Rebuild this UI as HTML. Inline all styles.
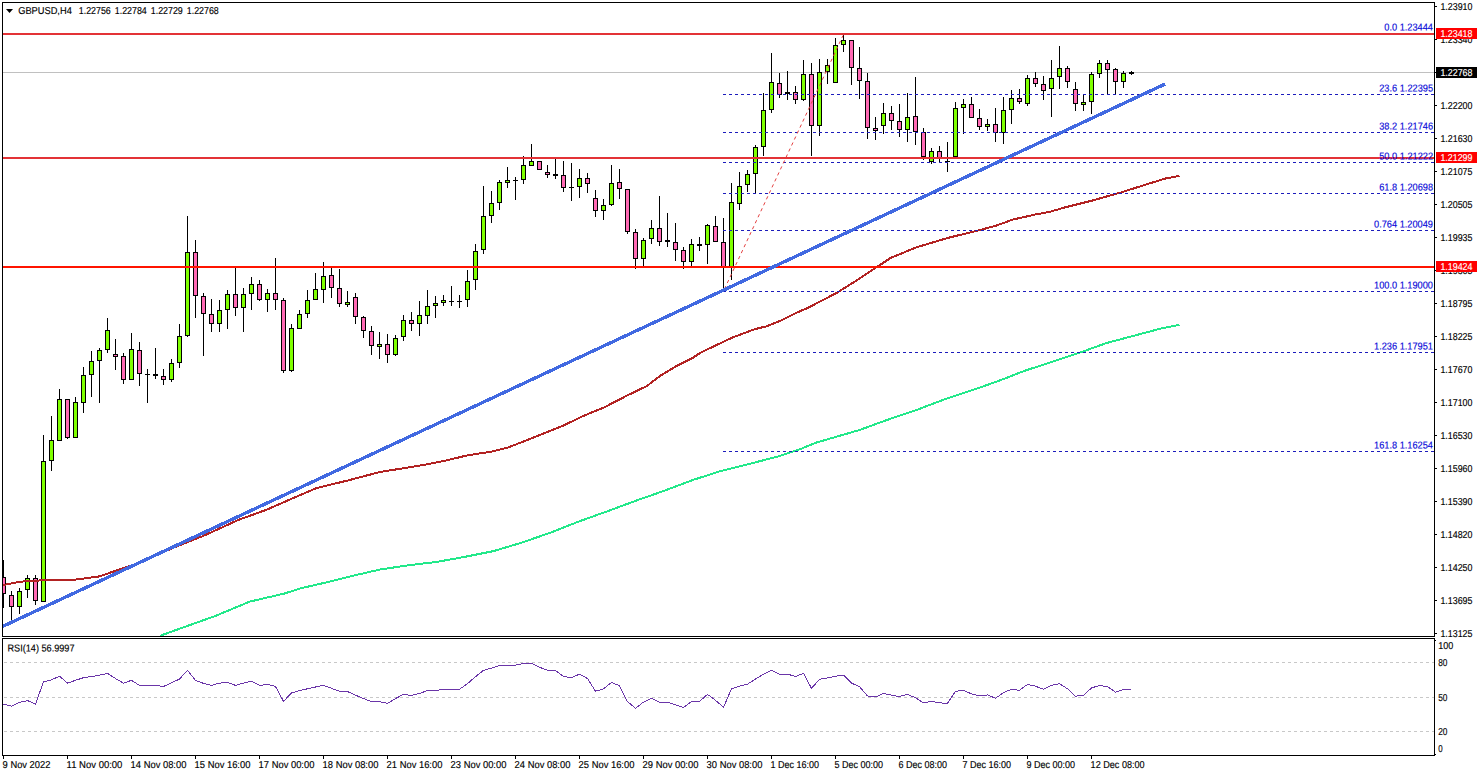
<!DOCTYPE html>
<html><head><meta charset="utf-8"><title>GBPUSD,H4</title>
<style>
html,body{margin:0;padding:0;background:#fff;}
body{width:1480px;height:776px;overflow:hidden;font-family:"Liberation Sans",sans-serif;}
svg{display:block;}
text{font-family:"Liberation Sans",sans-serif;}
</style></head><body>
<svg width="1480" height="776" viewBox="0 0 1480 776">
<rect x="0" y="0" width="1480" height="776" fill="#ffffff"/>
<defs><clipPath id="cm"><rect x="3" y="3" width="1431" height="633"/></clipPath><clipPath id="cr"><rect x="3" y="639" width="1431" height="116"/></clipPath></defs>
<g clip-path="url(#cm)">
<rect x="3" y="72" width="1431" height="1" fill="#c0c0c0" shape-rendering="crispEdges"/>
<g shape-rendering="crispEdges">
<rect x="3" y="560" width="1" height="48" fill="#000"/><rect x="1" y="577" width="5" height="17" fill="#000"/><rect x="2" y="578" width="3" height="15" fill="#ff69b4"/>
<rect x="11" y="591" width="1" height="30" fill="#000"/><rect x="9" y="595" width="5" height="12" fill="#000"/><rect x="10" y="596" width="3" height="10" fill="#ff69b4"/>
<rect x="19" y="588" width="1" height="26" fill="#000"/><rect x="17" y="591" width="5" height="16" fill="#000"/><rect x="18" y="592" width="3" height="14" fill="#7fff00"/>
<rect x="27" y="575" width="1" height="23" fill="#000"/><rect x="25" y="578" width="5" height="12" fill="#000"/><rect x="26" y="579" width="3" height="10" fill="#7fff00"/>
<rect x="35" y="575" width="1" height="30" fill="#000"/><rect x="33" y="578" width="5" height="23" fill="#000"/><rect x="34" y="579" width="3" height="21" fill="#ff69b4"/>
<rect x="43" y="435" width="1" height="167" fill="#000"/><rect x="41" y="461" width="5" height="141" fill="#000"/><rect x="42" y="462" width="3" height="139" fill="#7fff00"/>
<rect x="51" y="416" width="1" height="55" fill="#000"/><rect x="49" y="440" width="5" height="21" fill="#000"/><rect x="50" y="441" width="3" height="19" fill="#7fff00"/>
<rect x="59" y="389" width="1" height="52" fill="#000"/><rect x="57" y="399" width="5" height="42" fill="#000"/><rect x="58" y="400" width="3" height="40" fill="#7fff00"/>
<rect x="67" y="399" width="1" height="40" fill="#000"/><rect x="65" y="399" width="5" height="39" fill="#000"/><rect x="66" y="400" width="3" height="37" fill="#ff69b4"/>
<rect x="75" y="397" width="1" height="41" fill="#000"/><rect x="73" y="402" width="5" height="36" fill="#000"/><rect x="74" y="403" width="3" height="34" fill="#7fff00"/>
<rect x="83" y="367" width="1" height="46" fill="#000"/><rect x="81" y="375" width="5" height="28" fill="#000"/><rect x="82" y="376" width="3" height="26" fill="#7fff00"/>
<rect x="91" y="351" width="1" height="46" fill="#000"/><rect x="89" y="361" width="5" height="14" fill="#000"/><rect x="90" y="362" width="3" height="12" fill="#7fff00"/>
<rect x="99" y="348" width="1" height="55" fill="#000"/><rect x="97" y="350" width="5" height="11" fill="#000"/><rect x="98" y="351" width="3" height="9" fill="#7fff00"/>
<rect x="107" y="318" width="1" height="35" fill="#000"/><rect x="105" y="330" width="5" height="20" fill="#000"/><rect x="106" y="331" width="3" height="18" fill="#7fff00"/>
<rect x="115" y="339" width="1" height="31" fill="#000"/><rect x="113" y="354" width="5" height="3" fill="#000"/><rect x="114" y="355" width="3" height="1" fill="#ff69b4"/>
<rect x="123" y="353" width="1" height="31" fill="#000"/><rect x="121" y="356" width="5" height="24" fill="#000"/><rect x="122" y="357" width="3" height="22" fill="#ff69b4"/>
<rect x="131" y="333" width="1" height="47" fill="#000"/><rect x="129" y="349" width="5" height="31" fill="#000"/><rect x="130" y="350" width="3" height="29" fill="#7fff00"/>
<rect x="139" y="342" width="1" height="44" fill="#000"/><rect x="137" y="350" width="5" height="24" fill="#000"/><rect x="138" y="351" width="3" height="22" fill="#ff69b4"/>
<rect x="147" y="369" width="1" height="34" fill="#000"/><rect x="145" y="374" width="5" height="1" fill="#000"/>
<rect x="155" y="348" width="1" height="31" fill="#000"/><rect x="153" y="374" width="5" height="2" fill="#000"/>
<rect x="163" y="369" width="1" height="16" fill="#000"/><rect x="161" y="376" width="5" height="4" fill="#000"/><rect x="162" y="377" width="3" height="2" fill="#ff69b4"/>
<rect x="171" y="359" width="1" height="23" fill="#000"/><rect x="169" y="363" width="5" height="17" fill="#000"/><rect x="170" y="364" width="3" height="15" fill="#7fff00"/>
<rect x="179" y="324" width="1" height="44" fill="#000"/><rect x="177" y="336" width="5" height="27" fill="#000"/><rect x="178" y="337" width="3" height="25" fill="#7fff00"/>
<rect x="187" y="216" width="1" height="121" fill="#000"/><rect x="185" y="252" width="5" height="84" fill="#000"/><rect x="186" y="253" width="3" height="82" fill="#7fff00"/>
<rect x="195" y="240" width="1" height="78" fill="#000"/><rect x="193" y="252" width="5" height="44" fill="#000"/><rect x="194" y="253" width="3" height="42" fill="#ff69b4"/>
<rect x="203" y="293" width="1" height="63" fill="#000"/><rect x="201" y="296" width="5" height="18" fill="#000"/><rect x="202" y="297" width="3" height="16" fill="#ff69b4"/>
<rect x="211" y="299" width="1" height="33" fill="#000"/><rect x="209" y="314" width="5" height="10" fill="#000"/><rect x="210" y="315" width="3" height="8" fill="#ff69b4"/>
<rect x="219" y="300" width="1" height="32" fill="#000"/><rect x="217" y="310" width="5" height="14" fill="#000"/><rect x="218" y="311" width="3" height="12" fill="#7fff00"/>
<rect x="227" y="290" width="1" height="39" fill="#000"/><rect x="225" y="294" width="5" height="16" fill="#000"/><rect x="226" y="295" width="3" height="14" fill="#7fff00"/>
<rect x="235" y="268" width="1" height="48" fill="#000"/><rect x="233" y="294" width="5" height="14" fill="#000"/><rect x="234" y="295" width="3" height="12" fill="#ff69b4"/>
<rect x="243" y="288" width="1" height="44" fill="#000"/><rect x="241" y="294" width="5" height="14" fill="#000"/><rect x="242" y="295" width="3" height="12" fill="#7fff00"/>
<rect x="251" y="277" width="1" height="33" fill="#000"/><rect x="249" y="284" width="5" height="10" fill="#000"/><rect x="250" y="285" width="3" height="8" fill="#7fff00"/>
<rect x="259" y="280" width="1" height="21" fill="#000"/><rect x="257" y="284" width="5" height="16" fill="#000"/><rect x="258" y="285" width="3" height="14" fill="#ff69b4"/>
<rect x="267" y="289" width="1" height="23" fill="#000"/><rect x="265" y="293" width="5" height="7" fill="#000"/><rect x="266" y="294" width="3" height="5" fill="#7fff00"/>
<rect x="275" y="258" width="1" height="52" fill="#000"/><rect x="273" y="293" width="5" height="7" fill="#000"/><rect x="274" y="294" width="3" height="5" fill="#ff69b4"/>
<rect x="283" y="298" width="1" height="75" fill="#000"/><rect x="281" y="300" width="5" height="71" fill="#000"/><rect x="282" y="301" width="3" height="69" fill="#ff69b4"/>
<rect x="291" y="324" width="1" height="48" fill="#000"/><rect x="289" y="328" width="5" height="43" fill="#000"/><rect x="290" y="329" width="3" height="41" fill="#7fff00"/>
<rect x="299" y="310" width="1" height="19" fill="#000"/><rect x="297" y="314" width="5" height="15" fill="#000"/><rect x="298" y="315" width="3" height="13" fill="#7fff00"/>
<rect x="307" y="290" width="1" height="28" fill="#000"/><rect x="305" y="300" width="5" height="14" fill="#000"/><rect x="306" y="301" width="3" height="12" fill="#7fff00"/>
<rect x="315" y="273" width="1" height="27" fill="#000"/><rect x="313" y="289" width="5" height="11" fill="#000"/><rect x="314" y="290" width="3" height="9" fill="#7fff00"/>
<rect x="323" y="262" width="1" height="41" fill="#000"/><rect x="321" y="276" width="5" height="14" fill="#000"/><rect x="322" y="277" width="3" height="12" fill="#7fff00"/>
<rect x="331" y="268" width="1" height="30" fill="#000"/><rect x="329" y="275" width="5" height="13" fill="#000"/><rect x="330" y="276" width="3" height="11" fill="#ff69b4"/>
<rect x="339" y="269" width="1" height="38" fill="#000"/><rect x="337" y="288" width="5" height="16" fill="#000"/><rect x="338" y="289" width="3" height="14" fill="#ff69b4"/>
<rect x="347" y="291" width="1" height="16" fill="#000"/><rect x="345" y="302" width="5" height="3" fill="#000"/><rect x="346" y="303" width="3" height="1" fill="#7fff00"/>
<rect x="355" y="293" width="1" height="31" fill="#000"/><rect x="353" y="297" width="5" height="20" fill="#000"/><rect x="354" y="298" width="3" height="18" fill="#ff69b4"/>
<rect x="363" y="316" width="1" height="22" fill="#000"/><rect x="361" y="317" width="5" height="14" fill="#000"/><rect x="362" y="318" width="3" height="12" fill="#ff69b4"/>
<rect x="371" y="326" width="1" height="29" fill="#000"/><rect x="369" y="331" width="5" height="15" fill="#000"/><rect x="370" y="332" width="3" height="13" fill="#ff69b4"/>
<rect x="379" y="332" width="1" height="27" fill="#000"/><rect x="377" y="344" width="5" height="3" fill="#000"/><rect x="378" y="345" width="3" height="1" fill="#7fff00"/>
<rect x="387" y="334" width="1" height="29" fill="#000"/><rect x="385" y="344" width="5" height="11" fill="#000"/><rect x="386" y="345" width="3" height="9" fill="#ff69b4"/>
<rect x="395" y="335" width="1" height="21" fill="#000"/><rect x="393" y="338" width="5" height="17" fill="#000"/><rect x="394" y="339" width="3" height="15" fill="#7fff00"/>
<rect x="403" y="315" width="1" height="26" fill="#000"/><rect x="401" y="320" width="5" height="17" fill="#000"/><rect x="402" y="321" width="3" height="15" fill="#7fff00"/>
<rect x="411" y="312" width="1" height="19" fill="#000"/><rect x="409" y="320" width="5" height="4" fill="#000"/><rect x="410" y="321" width="3" height="2" fill="#ff69b4"/>
<rect x="419" y="301" width="1" height="35" fill="#000"/><rect x="417" y="315" width="5" height="9" fill="#000"/><rect x="418" y="316" width="3" height="7" fill="#7fff00"/>
<rect x="427" y="290" width="1" height="34" fill="#000"/><rect x="425" y="306" width="5" height="10" fill="#000"/><rect x="426" y="307" width="3" height="8" fill="#7fff00"/>
<rect x="435" y="296" width="1" height="22" fill="#000"/><rect x="433" y="303" width="5" height="3" fill="#000"/><rect x="434" y="304" width="3" height="1" fill="#7fff00"/>
<rect x="443" y="295" width="1" height="11" fill="#000"/><rect x="441" y="300" width="5" height="3" fill="#000"/><rect x="442" y="301" width="3" height="1" fill="#7fff00"/>
<rect x="451" y="286" width="1" height="20" fill="#000"/><rect x="449" y="301" width="5" height="1" fill="#000"/>
<rect x="459" y="295" width="1" height="13" fill="#000"/><rect x="457" y="301" width="5" height="1" fill="#000"/>
<rect x="467" y="270" width="1" height="37" fill="#000"/><rect x="465" y="281" width="5" height="19" fill="#000"/><rect x="466" y="282" width="3" height="17" fill="#7fff00"/>
<rect x="475" y="244" width="1" height="46" fill="#000"/><rect x="473" y="251" width="5" height="29" fill="#000"/><rect x="474" y="252" width="3" height="27" fill="#7fff00"/>
<rect x="483" y="186" width="1" height="68" fill="#000"/><rect x="481" y="216" width="5" height="34" fill="#000"/><rect x="482" y="217" width="3" height="32" fill="#7fff00"/>
<rect x="491" y="191" width="1" height="32" fill="#000"/><rect x="489" y="203" width="5" height="13" fill="#000"/><rect x="490" y="204" width="3" height="11" fill="#7fff00"/>
<rect x="499" y="180" width="1" height="30" fill="#000"/><rect x="497" y="182" width="5" height="21" fill="#000"/><rect x="498" y="183" width="3" height="19" fill="#7fff00"/>
<rect x="507" y="167" width="1" height="21" fill="#000"/><rect x="505" y="180" width="5" height="3" fill="#000"/><rect x="506" y="181" width="3" height="1" fill="#7fff00"/>
<rect x="515" y="177" width="1" height="23" fill="#000"/><rect x="513" y="180" width="5" height="1" fill="#000"/>
<rect x="523" y="156" width="1" height="28" fill="#000"/><rect x="521" y="165" width="5" height="15" fill="#000"/><rect x="522" y="166" width="3" height="13" fill="#7fff00"/>
<rect x="531" y="144" width="1" height="22" fill="#000"/><rect x="529" y="161" width="5" height="5" fill="#000"/><rect x="530" y="162" width="3" height="3" fill="#7fff00"/>
<rect x="539" y="161" width="1" height="9" fill="#000"/><rect x="537" y="161" width="5" height="9" fill="#000"/><rect x="538" y="162" width="3" height="7" fill="#ff69b4"/>
<rect x="547" y="165" width="1" height="13" fill="#000"/><rect x="545" y="172" width="5" height="3" fill="#000"/><rect x="546" y="173" width="3" height="1" fill="#ff69b4"/>
<rect x="555" y="158" width="1" height="21" fill="#000"/><rect x="553" y="174" width="5" height="2" fill="#000"/>
<rect x="563" y="161" width="1" height="31" fill="#000"/><rect x="561" y="175" width="5" height="13" fill="#000"/><rect x="562" y="176" width="3" height="11" fill="#ff69b4"/>
<rect x="571" y="163" width="1" height="38" fill="#000"/><rect x="569" y="187" width="5" height="1" fill="#000"/>
<rect x="579" y="169" width="1" height="29" fill="#000"/><rect x="577" y="178" width="5" height="9" fill="#000"/><rect x="578" y="179" width="3" height="7" fill="#7fff00"/>
<rect x="587" y="173" width="1" height="20" fill="#000"/><rect x="585" y="178" width="5" height="6" fill="#000"/><rect x="586" y="179" width="3" height="4" fill="#ff69b4"/>
<rect x="595" y="190" width="1" height="27" fill="#000"/><rect x="593" y="198" width="5" height="13" fill="#000"/><rect x="594" y="199" width="3" height="11" fill="#ff69b4"/>
<rect x="603" y="199" width="1" height="21" fill="#000"/><rect x="601" y="205" width="5" height="6" fill="#000"/><rect x="602" y="206" width="3" height="4" fill="#7fff00"/>
<rect x="611" y="165" width="1" height="41" fill="#000"/><rect x="609" y="183" width="5" height="22" fill="#000"/><rect x="610" y="184" width="3" height="20" fill="#7fff00"/>
<rect x="619" y="169" width="1" height="30" fill="#000"/><rect x="617" y="182" width="5" height="7" fill="#000"/><rect x="618" y="183" width="3" height="5" fill="#ff69b4"/>
<rect x="627" y="189" width="1" height="45" fill="#000"/><rect x="625" y="189" width="5" height="43" fill="#000"/><rect x="626" y="190" width="3" height="41" fill="#ff69b4"/>
<rect x="635" y="229" width="1" height="40" fill="#000"/><rect x="633" y="232" width="5" height="27" fill="#000"/><rect x="634" y="233" width="3" height="25" fill="#ff69b4"/>
<rect x="643" y="238" width="1" height="28" fill="#000"/><rect x="641" y="240" width="5" height="19" fill="#000"/><rect x="642" y="241" width="3" height="17" fill="#7fff00"/>
<rect x="651" y="220" width="1" height="24" fill="#000"/><rect x="649" y="228" width="5" height="11" fill="#000"/><rect x="650" y="229" width="3" height="9" fill="#7fff00"/>
<rect x="659" y="196" width="1" height="50" fill="#000"/><rect x="657" y="228" width="5" height="14" fill="#000"/><rect x="658" y="229" width="3" height="12" fill="#ff69b4"/>
<rect x="667" y="213" width="1" height="34" fill="#000"/><rect x="665" y="240" width="5" height="2" fill="#000"/>
<rect x="675" y="223" width="1" height="38" fill="#000"/><rect x="673" y="242" width="5" height="8" fill="#000"/><rect x="674" y="243" width="3" height="6" fill="#ff69b4"/>
<rect x="683" y="247" width="1" height="22" fill="#000"/><rect x="681" y="250" width="5" height="12" fill="#000"/><rect x="682" y="251" width="3" height="10" fill="#ff69b4"/>
<rect x="691" y="239" width="1" height="27" fill="#000"/><rect x="689" y="244" width="5" height="18" fill="#000"/><rect x="690" y="245" width="3" height="16" fill="#7fff00"/>
<rect x="699" y="237" width="1" height="14" fill="#000"/><rect x="697" y="244" width="5" height="2" fill="#000"/>
<rect x="707" y="224" width="1" height="40" fill="#000"/><rect x="705" y="225" width="5" height="20" fill="#000"/><rect x="706" y="226" width="3" height="18" fill="#7fff00"/>
<rect x="715" y="216" width="1" height="26" fill="#000"/><rect x="713" y="226" width="5" height="16" fill="#000"/><rect x="714" y="227" width="3" height="14" fill="#ff69b4"/>
<rect x="723" y="218" width="1" height="71" fill="#000"/><rect x="721" y="242" width="5" height="25" fill="#000"/><rect x="722" y="243" width="3" height="23" fill="#ff69b4"/>
<rect x="731" y="183" width="1" height="97" fill="#000"/><rect x="729" y="202" width="5" height="65" fill="#000"/><rect x="730" y="203" width="3" height="63" fill="#7fff00"/>
<rect x="739" y="172" width="1" height="38" fill="#000"/><rect x="737" y="186" width="5" height="18" fill="#000"/><rect x="738" y="187" width="3" height="16" fill="#7fff00"/>
<rect x="747" y="170" width="1" height="22" fill="#000"/><rect x="745" y="174" width="5" height="11" fill="#000"/><rect x="746" y="175" width="3" height="9" fill="#7fff00"/>
<rect x="755" y="145" width="1" height="48" fill="#000"/><rect x="753" y="147" width="5" height="27" fill="#000"/><rect x="754" y="148" width="3" height="25" fill="#7fff00"/>
<rect x="763" y="93" width="1" height="63" fill="#000"/><rect x="761" y="110" width="5" height="37" fill="#000"/><rect x="762" y="111" width="3" height="35" fill="#7fff00"/>
<rect x="771" y="53" width="1" height="60" fill="#000"/><rect x="769" y="82" width="5" height="28" fill="#000"/><rect x="770" y="83" width="3" height="26" fill="#7fff00"/>
<rect x="779" y="73" width="1" height="25" fill="#000"/><rect x="777" y="83" width="5" height="12" fill="#000"/><rect x="778" y="84" width="3" height="10" fill="#ff69b4"/>
<rect x="787" y="71" width="1" height="29" fill="#000"/><rect x="785" y="92" width="5" height="2" fill="#000"/>
<rect x="795" y="86" width="1" height="18" fill="#000"/><rect x="793" y="92" width="5" height="8" fill="#000"/><rect x="794" y="93" width="3" height="6" fill="#ff69b4"/>
<rect x="803" y="60" width="1" height="41" fill="#000"/><rect x="801" y="74" width="5" height="26" fill="#000"/><rect x="802" y="75" width="3" height="24" fill="#7fff00"/>
<rect x="811" y="63" width="1" height="93" fill="#000"/><rect x="809" y="74" width="5" height="52" fill="#000"/><rect x="810" y="75" width="3" height="50" fill="#ff69b4"/>
<rect x="819" y="59" width="1" height="77" fill="#000"/><rect x="817" y="72" width="5" height="54" fill="#000"/><rect x="818" y="73" width="3" height="52" fill="#7fff00"/>
<rect x="827" y="59" width="1" height="25" fill="#000"/><rect x="825" y="65" width="5" height="7" fill="#000"/><rect x="826" y="66" width="3" height="5" fill="#7fff00"/>
<rect x="835" y="38" width="1" height="45" fill="#000"/><rect x="833" y="45" width="5" height="38" fill="#000"/><rect x="834" y="46" width="3" height="36" fill="#7fff00"/>
<rect x="843" y="35" width="1" height="17" fill="#000"/><rect x="841" y="40" width="5" height="5" fill="#000"/><rect x="842" y="41" width="3" height="3" fill="#7fff00"/>
<rect x="851" y="40" width="1" height="45" fill="#000"/><rect x="849" y="40" width="5" height="28" fill="#000"/><rect x="850" y="41" width="3" height="26" fill="#ff69b4"/>
<rect x="859" y="47" width="1" height="52" fill="#000"/><rect x="857" y="68" width="5" height="13" fill="#000"/><rect x="858" y="69" width="3" height="11" fill="#ff69b4"/>
<rect x="867" y="73" width="1" height="66" fill="#000"/><rect x="865" y="81" width="5" height="47" fill="#000"/><rect x="866" y="82" width="3" height="45" fill="#ff69b4"/>
<rect x="875" y="117" width="1" height="23" fill="#000"/><rect x="873" y="128" width="5" height="3" fill="#000"/><rect x="874" y="129" width="3" height="1" fill="#ff69b4"/>
<rect x="883" y="103" width="1" height="31" fill="#000"/><rect x="881" y="113" width="5" height="13" fill="#000"/><rect x="882" y="114" width="3" height="11" fill="#7fff00"/>
<rect x="891" y="106" width="1" height="24" fill="#000"/><rect x="889" y="113" width="5" height="8" fill="#000"/><rect x="890" y="114" width="3" height="6" fill="#ff69b4"/>
<rect x="899" y="104" width="1" height="33" fill="#000"/><rect x="897" y="121" width="5" height="9" fill="#000"/><rect x="898" y="122" width="3" height="7" fill="#ff69b4"/>
<rect x="907" y="93" width="1" height="49" fill="#000"/><rect x="905" y="117" width="5" height="13" fill="#000"/><rect x="906" y="118" width="3" height="11" fill="#7fff00"/>
<rect x="915" y="77" width="1" height="68" fill="#000"/><rect x="913" y="116" width="5" height="16" fill="#000"/><rect x="914" y="117" width="3" height="14" fill="#ff69b4"/>
<rect x="923" y="128" width="1" height="32" fill="#000"/><rect x="921" y="132" width="5" height="25" fill="#000"/><rect x="922" y="133" width="3" height="23" fill="#ff69b4"/>
<rect x="931" y="148" width="1" height="16" fill="#000"/><rect x="929" y="151" width="5" height="11" fill="#000"/><rect x="930" y="152" width="3" height="9" fill="#7fff00"/>
<rect x="939" y="146" width="1" height="17" fill="#000"/><rect x="937" y="151" width="5" height="7" fill="#000"/><rect x="938" y="152" width="3" height="5" fill="#ff69b4"/>
<rect x="947" y="142" width="1" height="30" fill="#000"/><rect x="945" y="161" width="5" height="1" fill="#000"/>
<rect x="955" y="102" width="1" height="55" fill="#000"/><rect x="953" y="108" width="5" height="49" fill="#000"/><rect x="954" y="109" width="3" height="47" fill="#7fff00"/>
<rect x="963" y="99" width="1" height="35" fill="#000"/><rect x="961" y="104" width="5" height="4" fill="#000"/><rect x="962" y="105" width="3" height="2" fill="#7fff00"/>
<rect x="971" y="97" width="1" height="21" fill="#000"/><rect x="969" y="104" width="5" height="14" fill="#000"/><rect x="970" y="105" width="3" height="12" fill="#ff69b4"/>
<rect x="979" y="109" width="1" height="21" fill="#000"/><rect x="977" y="118" width="5" height="9" fill="#000"/><rect x="978" y="119" width="3" height="7" fill="#ff69b4"/>
<rect x="987" y="119" width="1" height="12" fill="#000"/><rect x="985" y="124" width="5" height="3" fill="#000"/><rect x="986" y="125" width="3" height="1" fill="#7fff00"/>
<rect x="995" y="108" width="1" height="34" fill="#000"/><rect x="993" y="124" width="5" height="9" fill="#000"/><rect x="994" y="125" width="3" height="7" fill="#ff69b4"/>
<rect x="1003" y="97" width="1" height="47" fill="#000"/><rect x="1001" y="110" width="5" height="23" fill="#000"/><rect x="1002" y="111" width="3" height="21" fill="#7fff00"/>
<rect x="1011" y="90" width="1" height="34" fill="#000"/><rect x="1009" y="98" width="5" height="12" fill="#000"/><rect x="1010" y="99" width="3" height="10" fill="#7fff00"/>
<rect x="1019" y="89" width="1" height="15" fill="#000"/><rect x="1017" y="98" width="5" height="4" fill="#000"/><rect x="1018" y="99" width="3" height="2" fill="#ff69b4"/>
<rect x="1027" y="75" width="1" height="31" fill="#000"/><rect x="1025" y="78" width="5" height="26" fill="#000"/><rect x="1026" y="79" width="3" height="24" fill="#7fff00"/>
<rect x="1035" y="72" width="1" height="15" fill="#000"/><rect x="1033" y="78" width="5" height="6" fill="#000"/><rect x="1034" y="79" width="3" height="4" fill="#ff69b4"/>
<rect x="1043" y="76" width="1" height="24" fill="#000"/><rect x="1041" y="84" width="5" height="7" fill="#000"/><rect x="1042" y="85" width="3" height="5" fill="#ff69b4"/>
<rect x="1051" y="60" width="1" height="57" fill="#000"/><rect x="1049" y="78" width="5" height="11" fill="#000"/><rect x="1050" y="79" width="3" height="9" fill="#7fff00"/>
<rect x="1059" y="46" width="1" height="43" fill="#000"/><rect x="1057" y="68" width="5" height="9" fill="#000"/><rect x="1058" y="69" width="3" height="7" fill="#7fff00"/>
<rect x="1067" y="66" width="1" height="22" fill="#000"/><rect x="1065" y="68" width="5" height="14" fill="#000"/><rect x="1066" y="69" width="3" height="12" fill="#ff69b4"/>
<rect x="1075" y="82" width="1" height="29" fill="#000"/><rect x="1073" y="89" width="5" height="15" fill="#000"/><rect x="1074" y="90" width="3" height="13" fill="#ff69b4"/>
<rect x="1083" y="94" width="1" height="17" fill="#000"/><rect x="1081" y="102" width="5" height="3" fill="#000"/><rect x="1082" y="103" width="3" height="1" fill="#7fff00"/>
<rect x="1091" y="72" width="1" height="42" fill="#000"/><rect x="1089" y="74" width="5" height="28" fill="#000"/><rect x="1090" y="75" width="3" height="26" fill="#7fff00"/>
<rect x="1099" y="60" width="1" height="18" fill="#000"/><rect x="1097" y="63" width="5" height="11" fill="#000"/><rect x="1098" y="64" width="3" height="9" fill="#7fff00"/>
<rect x="1107" y="60" width="1" height="34" fill="#000"/><rect x="1105" y="63" width="5" height="7" fill="#000"/><rect x="1106" y="64" width="3" height="5" fill="#ff69b4"/>
<rect x="1115" y="68" width="1" height="26" fill="#000"/><rect x="1113" y="69" width="5" height="13" fill="#000"/><rect x="1114" y="70" width="3" height="11" fill="#ff69b4"/>
<rect x="1123" y="71" width="1" height="17" fill="#000"/><rect x="1121" y="73" width="5" height="9" fill="#000"/><rect x="1122" y="74" width="3" height="7" fill="#7fff00"/>
<rect x="1131" y="71" width="1" height="4" fill="#000"/><rect x="1129" y="72" width="5" height="2" fill="#000"/>
</g>
<polyline points="160.3,635.7 181.6,628.0 215.7,615.8 249.7,601.6 283.8,593.7 300.8,588.3 329.2,581.7 357.5,574.7 380.0,569.5 408.4,565.3 436.8,561.9 465.1,556.8 493.5,551.1 521.9,542.6 550.3,532.7 578.6,521.6 607.0,511.4 635.4,500.9 663.8,490.9 692.2,480.2 720.5,471.1 748.9,464.0 777.3,456.7 800.0,449.2 816.9,442.4 859.5,430.0 887.8,419.7 916.2,410.1 944.6,399.3 978.6,388.0 1001.3,379.9 1024.0,371.0 1063.8,358.0 1083.6,351.3 1106.3,343.1 1134.7,335.5 1163.1,328.0 1179.5,324.8" fill="none" stroke="#22e88a" stroke-width="2" stroke-linejoin="round" shape-rendering="crispEdges"/>
<polyline points="2.8,585.2 19.9,581.7 42.6,580.3 76.6,579.5 99.3,576.4 133.4,564.7 170.3,549.1 204.3,535.5 238.4,519.9 266.7,509.7 295.1,497.2 316.4,488.1 349.0,480.2 380.2,471.9 400.0,468.8 425.5,464.6 445.4,460.6 468.1,455.2 490.8,451.8 507.8,447.6 533.4,437.6 561.7,426.3 584.4,415.5 604.3,407.3 627.0,395.6 646.9,386.0 661.1,375.2 675.3,366.7 692.3,358.2 700.8,352.5 732.0,337.7 754.7,329.2 766.1,326.4 780.2,320.9 797.3,312.4 808.4,307.6 836.8,292.8 859.5,278.6 876.5,267.3 890.7,257.9 916.2,247.4 947.4,238.0 978.6,230.4 995.7,225.8 1012.7,219.6 1035.4,214.5 1049.6,211.9 1063.8,207.7 1092.1,200.6 1120.5,192.6 1148.9,183.6 1165.9,178.4 1179.5,175.9" fill="none" stroke="#b22222" stroke-width="2" stroke-linejoin="round" shape-rendering="crispEdges"/>
<g shape-rendering="crispEdges">
<line x1="723" y1="94.5" x2="1434" y2="94.5" stroke="#1c1cbc" stroke-width="1" stroke-dasharray="3 3"/>
<line x1="723" y1="132.5" x2="1434" y2="132.5" stroke="#1c1cbc" stroke-width="1" stroke-dasharray="3 3"/>
<line x1="723" y1="162.5" x2="1434" y2="162.5" stroke="#1c1cbc" stroke-width="1" stroke-dasharray="3 3"/>
<line x1="723" y1="193.5" x2="1434" y2="193.5" stroke="#1c1cbc" stroke-width="1" stroke-dasharray="3 3"/>
<line x1="723" y1="230.5" x2="1434" y2="230.5" stroke="#1c1cbc" stroke-width="1" stroke-dasharray="3 3"/>
<line x1="723" y1="291.5" x2="1434" y2="291.5" stroke="#1c1cbc" stroke-width="1" stroke-dasharray="3 3"/>
<line x1="723" y1="352.5" x2="1434" y2="352.5" stroke="#1c1cbc" stroke-width="1" stroke-dasharray="3 3"/>
<line x1="723" y1="451.5" x2="1434" y2="451.5" stroke="#1c1cbc" stroke-width="1" stroke-dasharray="3 3"/>
</g>
<line x1="724.5" y1="289" x2="843" y2="35.5" stroke="#e44040" stroke-width="1" stroke-dasharray="3.3 3.3"/>
<g shape-rendering="crispEdges">
<rect x="3" y="33" width="1431" height="2" fill="#e33236"/>
<rect x="3" y="157" width="1431" height="2" fill="#e33236"/>
<rect x="3" y="266" width="1431" height="2" fill="#ff1400"/>
</g>
<line x1="2.5" y1="626.5" x2="1165" y2="84.1" stroke="#4169e1" stroke-width="3.3" stroke-linecap="butt" shape-rendering="crispEdges"/>
</g>
<g shape-rendering="crispEdges">
<line x1="3" y1="662.5" x2="1434" y2="662.5" stroke="#c8c8c8" stroke-width="1" stroke-dasharray="3 3" stroke-dashoffset="5"/>
<line x1="3" y1="697.5" x2="1434" y2="697.5" stroke="#c8c8c8" stroke-width="1" stroke-dasharray="3 3" stroke-dashoffset="5"/>
<line x1="3" y1="731.5" x2="1434" y2="731.5" stroke="#c8c8c8" stroke-width="1" stroke-dasharray="3 3" stroke-dashoffset="5"/>
</g>
<polyline points="3.5,704.2 11.5,706.2 19.5,702.4 27.5,700.6 35.5,704.2 43.5,681.8 51.5,679.8 59.5,676.2 67.5,683.1 75.5,680.3 83.5,677.7 91.5,676.5 99.5,675.2 107.5,673.4 115.5,678.5 123.5,683.1 131.5,680.3 139.5,685.4 147.5,685.4 155.5,685.4 163.5,686.5 171.5,682.9 179.5,679.0 187.5,670.3 195.5,680.3 203.5,683.4 211.5,685.4 219.5,683.1 227.5,682.4 235.5,685.4 243.5,683.1 251.5,681.1 259.5,685.4 267.5,684.4 275.5,686.5 283.5,701.4 291.5,692.9 299.5,690.6 307.5,688.8 315.5,687.0 323.5,685.4 331.5,688.3 339.5,691.3 347.5,691.6 355.5,695.2 363.5,698.5 371.5,701.6 379.5,701.6 387.5,703.4 395.5,698.5 403.5,694.4 411.5,695.5 419.5,693.4 427.5,690.6 435.5,690.6 443.5,689.3 451.5,689.3 459.5,689.3 467.5,683.6 475.5,676.7 483.5,670.3 491.5,668.2 499.5,665.4 507.5,665.2 515.5,665.2 523.5,663.4 531.5,663.4 539.5,667.2 547.5,670.3 555.5,670.6 563.5,676.5 571.5,677.7 579.5,674.1 587.5,678.5 595.5,691.3 603.5,688.8 611.5,682.4 619.5,685.7 627.5,701.6 635.5,708.3 643.5,702.1 651.5,698.3 659.5,702.1 667.5,702.4 675.5,704.7 683.5,707.5 691.5,701.6 699.5,701.4 707.5,694.4 715.5,700.3 723.5,707.3 731.5,688.8 739.5,686.2 747.5,684.2 755.5,679.0 763.5,674.1 771.5,670.3 779.5,674.1 787.5,674.1 795.5,676.5 803.5,673.4 811.5,688.3 819.5,679.3 827.5,678.0 835.5,676.2 843.5,675.2 851.5,683.1 859.5,686.7 867.5,696.0 875.5,697.0 883.5,693.4 891.5,695.2 899.5,696.5 907.5,694.4 915.5,697.8 923.5,702.9 931.5,701.4 939.5,702.9 947.5,703.2 955.5,691.3 963.5,690.3 971.5,693.9 979.5,696.0 987.5,694.9 995.5,698.3 1003.5,692.6 1011.5,689.3 1019.5,690.3 1027.5,684.4 1035.5,686.2 1043.5,689.3 1051.5,685.4 1059.5,683.6 1067.5,688.8 1075.5,696.2 1083.5,695.2 1091.5,688.0 1099.5,685.4 1107.5,686.7 1115.5,692.1 1123.5,689.5 1131.5,689.3" fill="none" stroke="#6a35a8" stroke-width="1" stroke-linejoin="round" shape-rendering="crispEdges"/>
<g shape-rendering="crispEdges" fill="#000">
<rect x="2" y="2" width="1" height="635"/><rect x="2" y="638" width="1" height="118"/>
<rect x="1434" y="2" width="1" height="635"/><rect x="1434" y="638" width="1" height="118"/>
<rect x="2" y="2" width="1433" height="1"/>
<rect x="2" y="636" width="1433" height="1"/>
<rect x="2" y="638" width="1433" height="1"/>
<rect x="2" y="755" width="1433" height="1"/>
<rect x="1435" y="640" width="1" height="1"/><rect x="1435" y="754" width="1" height="1"/>
<rect x="1435" y="6" width="2" height="1"/><rect x="1435" y="39" width="2" height="1"/><rect x="1435" y="72" width="2" height="1"/><rect x="1435" y="105" width="2" height="1"/><rect x="1435" y="138" width="2" height="1"/><rect x="1435" y="171" width="2" height="1"/><rect x="1435" y="204" width="2" height="1"/><rect x="1435" y="237" width="2" height="1"/><rect x="1435" y="270" width="2" height="1"/><rect x="1435" y="303" width="2" height="1"/><rect x="1435" y="336" width="2" height="1"/><rect x="1435" y="369" width="2" height="1"/><rect x="1435" y="402" width="2" height="1"/><rect x="1435" y="435" width="2" height="1"/><rect x="1435" y="468" width="2" height="1"/><rect x="1435" y="501" width="2" height="1"/><rect x="1435" y="534" width="2" height="1"/><rect x="1435" y="567" width="2" height="1"/><rect x="1435" y="600" width="2" height="1"/><rect x="1435" y="633" width="2" height="1"/>
<rect x="3" y="756" width="1" height="3"/><rect x="67" y="756" width="1" height="3"/><rect x="131" y="756" width="1" height="3"/><rect x="195" y="756" width="1" height="3"/><rect x="259" y="756" width="1" height="3"/><rect x="323" y="756" width="1" height="3"/><rect x="387" y="756" width="1" height="3"/><rect x="451" y="756" width="1" height="3"/><rect x="515" y="756" width="1" height="3"/><rect x="579" y="756" width="1" height="3"/><rect x="643" y="756" width="1" height="3"/><rect x="707" y="756" width="1" height="3"/><rect x="771" y="756" width="1" height="3"/><rect x="835" y="756" width="1" height="3"/><rect x="899" y="756" width="1" height="3"/><rect x="963" y="756" width="1" height="3"/><rect x="1027" y="756" width="1" height="3"/><rect x="1091" y="756" width="1" height="3"/>
</g>
<text transform="translate(1440.4,9.9) rotate(0.05)" font-size="10.0" fill="#000" stroke="#000" stroke-width="0.15" textLength="32" lengthAdjust="spacingAndGlyphs">1.23910</text>
<text transform="translate(1440.4,42.9) rotate(0.05)" font-size="10.0" fill="#000" stroke="#000" stroke-width="0.15" textLength="32" lengthAdjust="spacingAndGlyphs">1.23340</text>
<text transform="translate(1440.4,75.9) rotate(0.05)" font-size="10.0" fill="#000" stroke="#000" stroke-width="0.15" textLength="32" lengthAdjust="spacingAndGlyphs">1.22770</text>
<text transform="translate(1440.4,108.9) rotate(0.05)" font-size="10.0" fill="#000" stroke="#000" stroke-width="0.15" textLength="32" lengthAdjust="spacingAndGlyphs">1.22200</text>
<text transform="translate(1440.4,141.9) rotate(0.05)" font-size="10.0" fill="#000" stroke="#000" stroke-width="0.15" textLength="32" lengthAdjust="spacingAndGlyphs">1.21630</text>
<text transform="translate(1440.4,174.9) rotate(0.05)" font-size="10.0" fill="#000" stroke="#000" stroke-width="0.15" textLength="32" lengthAdjust="spacingAndGlyphs">1.21075</text>
<text transform="translate(1440.4,207.9) rotate(0.05)" font-size="10.0" fill="#000" stroke="#000" stroke-width="0.15" textLength="32" lengthAdjust="spacingAndGlyphs">1.20505</text>
<text transform="translate(1440.4,240.9) rotate(0.05)" font-size="10.0" fill="#000" stroke="#000" stroke-width="0.15" textLength="32" lengthAdjust="spacingAndGlyphs">1.19935</text>
<text transform="translate(1440.4,273.9) rotate(0.05)" font-size="10.0" fill="#000" stroke="#000" stroke-width="0.15" textLength="32" lengthAdjust="spacingAndGlyphs">1.19365</text>
<text transform="translate(1440.4,306.9) rotate(0.05)" font-size="10.0" fill="#000" stroke="#000" stroke-width="0.15" textLength="32" lengthAdjust="spacingAndGlyphs">1.18795</text>
<text transform="translate(1440.4,339.9) rotate(0.05)" font-size="10.0" fill="#000" stroke="#000" stroke-width="0.15" textLength="32" lengthAdjust="spacingAndGlyphs">1.18225</text>
<text transform="translate(1440.4,372.9) rotate(0.05)" font-size="10.0" fill="#000" stroke="#000" stroke-width="0.15" textLength="32" lengthAdjust="spacingAndGlyphs">1.17670</text>
<text transform="translate(1440.4,405.9) rotate(0.05)" font-size="10.0" fill="#000" stroke="#000" stroke-width="0.15" textLength="32" lengthAdjust="spacingAndGlyphs">1.17100</text>
<text transform="translate(1440.4,438.9) rotate(0.05)" font-size="10.0" fill="#000" stroke="#000" stroke-width="0.15" textLength="32" lengthAdjust="spacingAndGlyphs">1.16530</text>
<text transform="translate(1440.4,471.9) rotate(0.05)" font-size="10.0" fill="#000" stroke="#000" stroke-width="0.15" textLength="32" lengthAdjust="spacingAndGlyphs">1.15960</text>
<text transform="translate(1440.4,504.9) rotate(0.05)" font-size="10.0" fill="#000" stroke="#000" stroke-width="0.15" textLength="32" lengthAdjust="spacingAndGlyphs">1.15390</text>
<text transform="translate(1440.4,537.9) rotate(0.05)" font-size="10.0" fill="#000" stroke="#000" stroke-width="0.15" textLength="32" lengthAdjust="spacingAndGlyphs">1.14820</text>
<text transform="translate(1440.4,570.9) rotate(0.05)" font-size="10.0" fill="#000" stroke="#000" stroke-width="0.15" textLength="32" lengthAdjust="spacingAndGlyphs">1.14250</text>
<text transform="translate(1440.4,603.9) rotate(0.05)" font-size="10.0" fill="#000" stroke="#000" stroke-width="0.15" textLength="32" lengthAdjust="spacingAndGlyphs">1.13695</text>
<text transform="translate(1440.4,636.9) rotate(0.05)" font-size="10.0" fill="#000" stroke="#000" stroke-width="0.15" textLength="32" lengthAdjust="spacingAndGlyphs">1.13125</text>
<rect x="1436" y="28" width="41" height="11" fill="#ff0000" shape-rendering="crispEdges"/>
<text transform="translate(1440.4,37) rotate(0.05)" font-size="10.0" fill="#fff" stroke="#fff" stroke-width="0.15" textLength="32" lengthAdjust="spacingAndGlyphs">1.23418</text>
<rect x="1436" y="67" width="41" height="11" fill="#000000" shape-rendering="crispEdges"/>
<text transform="translate(1440.4,76) rotate(0.05)" font-size="10.0" fill="#fff" stroke="#fff" stroke-width="0.15" textLength="32" lengthAdjust="spacingAndGlyphs">1.22768</text>
<rect x="1436" y="152" width="41" height="11" fill="#ff0000" shape-rendering="crispEdges"/>
<text transform="translate(1440.4,161) rotate(0.05)" font-size="10.0" fill="#fff" stroke="#fff" stroke-width="0.15" textLength="32" lengthAdjust="spacingAndGlyphs">1.21299</text>
<rect x="1436" y="261" width="41" height="11" fill="#ff0000" shape-rendering="crispEdges"/>
<text transform="translate(1440.4,270) rotate(0.05)" font-size="10.0" fill="#fff" stroke="#fff" stroke-width="0.15" textLength="32" lengthAdjust="spacingAndGlyphs">1.19424</text>
<text transform="translate(1433,30.5) rotate(0.05)" font-size="10.0" fill="#0808d8" stroke="#0808d8" stroke-width="0.15" text-anchor="end" textLength="48.75" lengthAdjust="spacingAndGlyphs">0.0 1.23444</text>
<text transform="translate(1433,91.5) rotate(0.05)" font-size="10.0" fill="#0808d8" stroke="#0808d8" stroke-width="0.15" text-anchor="end" textLength="53.75" lengthAdjust="spacingAndGlyphs">23.6 1.22395</text>
<text transform="translate(1433,129.5) rotate(0.05)" font-size="10.0" fill="#0808d8" stroke="#0808d8" stroke-width="0.15" text-anchor="end" textLength="53.75" lengthAdjust="spacingAndGlyphs">38.2 1.21746</text>
<text transform="translate(1433,159.5) rotate(0.05)" font-size="10.0" fill="#0808d8" stroke="#0808d8" stroke-width="0.15" text-anchor="end" textLength="53.75" lengthAdjust="spacingAndGlyphs">50.0 1.21222</text>
<text transform="translate(1433,190.5) rotate(0.05)" font-size="10.0" fill="#0808d8" stroke="#0808d8" stroke-width="0.15" text-anchor="end" textLength="53.75" lengthAdjust="spacingAndGlyphs">61.8 1.20698</text>
<text transform="translate(1433,227.5) rotate(0.05)" font-size="10.0" fill="#0808d8" stroke="#0808d8" stroke-width="0.15" text-anchor="end" textLength="59" lengthAdjust="spacingAndGlyphs">0.764 1.20049</text>
<text transform="translate(1433,288.5) rotate(0.05)" font-size="10.0" fill="#0808d8" stroke="#0808d8" stroke-width="0.15" text-anchor="end" textLength="59" lengthAdjust="spacingAndGlyphs">100.0 1.19000</text>
<text transform="translate(1433,349.5) rotate(0.05)" font-size="10.0" fill="#0808d8" stroke="#0808d8" stroke-width="0.15" text-anchor="end" textLength="59" lengthAdjust="spacingAndGlyphs">1.236 1.17951</text>
<text transform="translate(1433,448.5) rotate(0.05)" font-size="10.0" fill="#0808d8" stroke="#0808d8" stroke-width="0.15" text-anchor="end" textLength="59" lengthAdjust="spacingAndGlyphs">161.8 1.16254</text>
<polygon points="6,9 13,9 9.5,13" fill="#000"/>
<text transform="translate(18.2,14) rotate(0.05)" font-size="10.0" fill="#000" stroke="#000" stroke-width="0.15" textLength="53.6" lengthAdjust="spacingAndGlyphs">GBPUSD,H4</text>
<text transform="translate(78.75,14) rotate(0.05)" font-size="10.0" fill="#000" stroke="#000" stroke-width="0.15" textLength="32" lengthAdjust="spacingAndGlyphs">1.22756</text>
<text transform="translate(114.75,14) rotate(0.05)" font-size="10.0" fill="#000" stroke="#000" stroke-width="0.15" textLength="32" lengthAdjust="spacingAndGlyphs">1.22784</text>
<text transform="translate(150.75,14) rotate(0.05)" font-size="10.0" fill="#000" stroke="#000" stroke-width="0.15" textLength="32" lengthAdjust="spacingAndGlyphs">1.22729</text>
<text transform="translate(186.75,14) rotate(0.05)" font-size="10.0" fill="#000" stroke="#000" stroke-width="0.15" textLength="32" lengthAdjust="spacingAndGlyphs">1.22768</text>
<text transform="translate(7.5,651.5) rotate(0.05)" font-size="10.0" fill="#000" stroke="#000" stroke-width="0.15" textLength="67" lengthAdjust="spacingAndGlyphs">RSI(14) 56.9997</text>
<text transform="translate(1438.2,649) rotate(0.05)" font-size="10.0" fill="#000" stroke="#000" stroke-width="0.15" textLength="15" lengthAdjust="spacingAndGlyphs">100</text>
<text transform="translate(1438.2,666) rotate(0.05)" font-size="10.0" fill="#000" stroke="#000" stroke-width="0.15" textLength="9.2" lengthAdjust="spacingAndGlyphs">80</text>
<text transform="translate(1438.2,701) rotate(0.05)" font-size="10.0" fill="#000" stroke="#000" stroke-width="0.15" textLength="9.2" lengthAdjust="spacingAndGlyphs">50</text>
<text transform="translate(1438.2,735) rotate(0.05)" font-size="10.0" fill="#000" stroke="#000" stroke-width="0.15" textLength="9.2" lengthAdjust="spacingAndGlyphs">20</text>
<text transform="translate(1438.2,752) rotate(0.05)" font-size="10.0" fill="#000" stroke="#000" stroke-width="0.15" textLength="4.4" lengthAdjust="spacingAndGlyphs">0</text>
<text transform="translate(2.6,768) rotate(0.05)" font-size="10.0" fill="#000" stroke="#000" stroke-width="0.15" textLength="47.75" lengthAdjust="spacingAndGlyphs">9 Nov 2022</text>
<text transform="translate(66.6,768) rotate(0.05)" font-size="10.0" fill="#000" stroke="#000" stroke-width="0.15" textLength="55.8" lengthAdjust="spacingAndGlyphs">11 Nov 00:00</text>
<text transform="translate(130.6,768) rotate(0.05)" font-size="10.0" fill="#000" stroke="#000" stroke-width="0.15" textLength="55.8" lengthAdjust="spacingAndGlyphs">14 Nov 08:00</text>
<text transform="translate(194.6,768) rotate(0.05)" font-size="10.0" fill="#000" stroke="#000" stroke-width="0.15" textLength="55.8" lengthAdjust="spacingAndGlyphs">15 Nov 16:00</text>
<text transform="translate(258.6,768) rotate(0.05)" font-size="10.0" fill="#000" stroke="#000" stroke-width="0.15" textLength="55.8" lengthAdjust="spacingAndGlyphs">17 Nov 00:00</text>
<text transform="translate(322.6,768) rotate(0.05)" font-size="10.0" fill="#000" stroke="#000" stroke-width="0.15" textLength="55.8" lengthAdjust="spacingAndGlyphs">18 Nov 08:00</text>
<text transform="translate(386.6,768) rotate(0.05)" font-size="10.0" fill="#000" stroke="#000" stroke-width="0.15" textLength="55.8" lengthAdjust="spacingAndGlyphs">21 Nov 16:00</text>
<text transform="translate(450.6,768) rotate(0.05)" font-size="10.0" fill="#000" stroke="#000" stroke-width="0.15" textLength="55.8" lengthAdjust="spacingAndGlyphs">23 Nov 00:00</text>
<text transform="translate(514.6,768) rotate(0.05)" font-size="10.0" fill="#000" stroke="#000" stroke-width="0.15" textLength="55.8" lengthAdjust="spacingAndGlyphs">24 Nov 08:00</text>
<text transform="translate(578.6,768) rotate(0.05)" font-size="10.0" fill="#000" stroke="#000" stroke-width="0.15" textLength="55.8" lengthAdjust="spacingAndGlyphs">25 Nov 16:00</text>
<text transform="translate(642.6,768) rotate(0.05)" font-size="10.0" fill="#000" stroke="#000" stroke-width="0.15" textLength="55.8" lengthAdjust="spacingAndGlyphs">29 Nov 00:00</text>
<text transform="translate(706.6,768) rotate(0.05)" font-size="10.0" fill="#000" stroke="#000" stroke-width="0.15" textLength="55.8" lengthAdjust="spacingAndGlyphs">30 Nov 08:00</text>
<text transform="translate(770.6,768) rotate(0.05)" font-size="10.0" fill="#000" stroke="#000" stroke-width="0.15" textLength="48.5" lengthAdjust="spacingAndGlyphs">1 Dec 16:00</text>
<text transform="translate(834.6,768) rotate(0.05)" font-size="10.0" fill="#000" stroke="#000" stroke-width="0.15" textLength="48.5" lengthAdjust="spacingAndGlyphs">5 Dec 00:00</text>
<text transform="translate(898.6,768) rotate(0.05)" font-size="10.0" fill="#000" stroke="#000" stroke-width="0.15" textLength="48.5" lengthAdjust="spacingAndGlyphs">6 Dec 08:00</text>
<text transform="translate(962.6,768) rotate(0.05)" font-size="10.0" fill="#000" stroke="#000" stroke-width="0.15" textLength="48.5" lengthAdjust="spacingAndGlyphs">7 Dec 16:00</text>
<text transform="translate(1026.6,768) rotate(0.05)" font-size="10.0" fill="#000" stroke="#000" stroke-width="0.15" textLength="48.5" lengthAdjust="spacingAndGlyphs">9 Dec 00:00</text>
<text transform="translate(1090.6,768) rotate(0.05)" font-size="10.0" fill="#000" stroke="#000" stroke-width="0.15" textLength="54" lengthAdjust="spacingAndGlyphs">12 Dec 08:00</text>
</svg>
</body></html>
